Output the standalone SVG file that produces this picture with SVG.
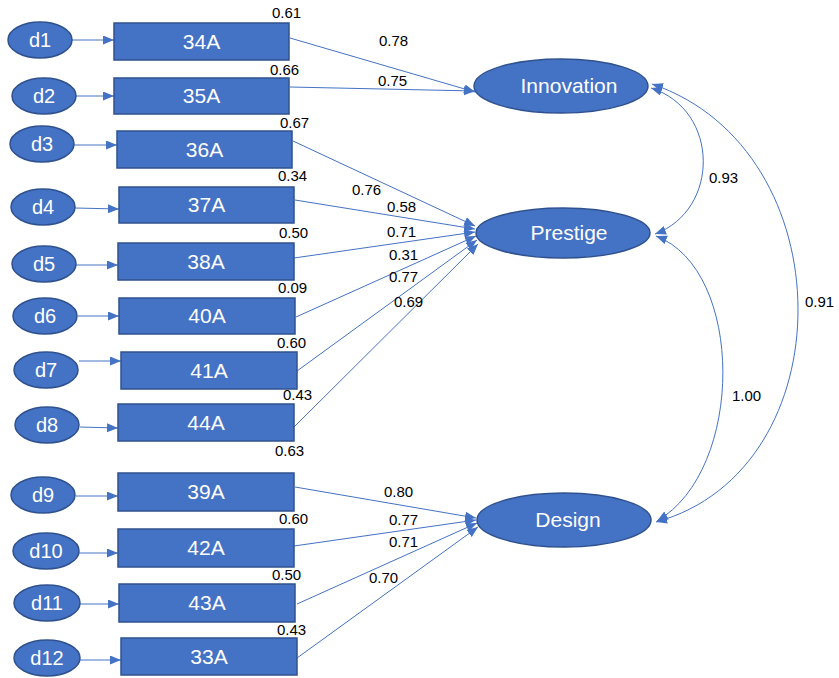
<svg xmlns="http://www.w3.org/2000/svg" width="839" height="678" viewBox="0 0 839 678">
<style>
.node{fill:#4472C4;stroke:#2F528F;stroke-width:1.5}
.lbl{font-family:"Liberation Sans",Arial,sans-serif;fill:#fff;text-anchor:middle}
.d{font-size:20px}
.b{font-size:21px}
.num{font-family:"Liberation Sans",Arial,sans-serif;font-size:15px;fill:#000}
.ln{stroke:#4472C4;stroke-width:1;fill:none}
</style>
<defs>
<marker id="ah" markerUnits="userSpaceOnUse" markerWidth="12" markerHeight="10" refX="11" refY="4.5" orient="auto-start-reverse" viewBox="0 0 12 10">
<path d="M0,0 L11,4.5 L0,9 z" fill="#4472C4"/>
</marker>
</defs>
<rect width="839" height="678" fill="#fff"/>

<g id="connectors">
<line class="ln" x1="72" y1="40" x2="114" y2="40" marker-end="url(#ah)"/>
<line class="ln" x1="76" y1="96" x2="114" y2="96" marker-end="url(#ah)"/>
<line class="ln" x1="74" y1="145" x2="117" y2="145" marker-end="url(#ah)"/>
<line class="ln" x1="75" y1="208" x2="119" y2="209" marker-end="url(#ah)"/>
<line class="ln" x1="76" y1="265" x2="118" y2="265" marker-end="url(#ah)"/>
<line class="ln" x1="78" y1="316" x2="119" y2="316" marker-end="url(#ah)"/>
<line class="ln" x1="79" y1="361" x2="121" y2="361" marker-end="url(#ah)"/>
<line class="ln" x1="80" y1="427" x2="118" y2="428" marker-end="url(#ah)"/>
<line class="ln" x1="76" y1="496" x2="118" y2="496" marker-end="url(#ah)"/>
<line class="ln" x1="79" y1="553" x2="118" y2="553" marker-end="url(#ah)"/>
<line class="ln" x1="80" y1="604" x2="119" y2="604" marker-end="url(#ah)"/>
<line class="ln" x1="80" y1="660" x2="121" y2="660" marker-end="url(#ah)"/>

<line class="ln" x1="290" y1="38" x2="475" y2="92" marker-end="url(#ah)"/>
<line class="ln" x1="290" y1="87" x2="475" y2="91" marker-end="url(#ah)"/>

<line class="ln" x1="293" y1="141" x2="475" y2="226" marker-end="url(#ah)"/>
<line class="ln" x1="295" y1="200" x2="475" y2="229" marker-end="url(#ah)"/>
<line class="ln" x1="294" y1="258" x2="475" y2="232" marker-end="url(#ah)"/>
<line class="ln" x1="296" y1="317" x2="476" y2="236" marker-end="url(#ah)"/>
<line class="ln" x1="297" y1="371" x2="477" y2="240" marker-end="url(#ah)"/>
<line class="ln" x1="294" y1="427" x2="478" y2="244" marker-end="url(#ah)"/>

<line class="ln" x1="295" y1="487" x2="476" y2="518" marker-end="url(#ah)"/>
<line class="ln" x1="294" y1="546" x2="476" y2="520" marker-end="url(#ah)"/>
<line class="ln" x1="297" y1="604" x2="477" y2="523" marker-end="url(#ah)"/>
<line class="ln" x1="297" y1="658" x2="478" y2="527" marker-end="url(#ah)"/>

<path class="ln" d="M651 88 C720 110 720 210 655 234" marker-start="url(#ah)" marker-end="url(#ah)"/>
<path class="ln" d="M652 84 C846 150 846 470 656 522" marker-start="url(#ah)" marker-end="url(#ah)"/>
<path class="ln" d="M656 236 C745 270 745 470 657 521" marker-start="url(#ah)" marker-end="url(#ah)"/>
</g>

<g id="d1"><ellipse class="node" cx="40" cy="40" rx="32" ry="18"/><text class="lbl d" x="40" y="47">d1</text></g>
<g id="d2"><ellipse class="node" cx="44" cy="96" rx="32" ry="18"/><text class="lbl d" x="44" y="103">d2</text></g>
<g id="d3"><ellipse class="node" cx="42" cy="144" rx="32" ry="18"/><text class="lbl d" x="42" y="151">d3</text></g>
<g id="d4"><ellipse class="node" cx="43" cy="207" rx="32" ry="18"/><text class="lbl d" x="43" y="214">d4</text></g>
<g id="d5"><ellipse class="node" cx="44" cy="264" rx="32" ry="18"/><text class="lbl d" x="44" y="271">d5</text></g>
<g id="d6"><ellipse class="node" cx="45" cy="316" rx="32" ry="18"/><text class="lbl d" x="45" y="323">d6</text></g>
<g id="d7"><ellipse class="node" cx="46" cy="370" rx="32" ry="18"/><text class="lbl d" x="46" y="377">d7</text></g>
<g id="d8"><ellipse class="node" cx="47" cy="425" rx="32" ry="18"/><text class="lbl d" x="47" y="432">d8</text></g>
<g id="d9"><ellipse class="node" cx="43" cy="495" rx="32" ry="18"/><text class="lbl d" x="43" y="502">d9</text></g>
<g id="d10"><ellipse class="node" cx="46" cy="551" rx="33" ry="18"/><text class="lbl d" x="46" y="558">d10</text></g>
<g id="d11"><ellipse class="node" cx="47" cy="603" rx="33" ry="18"/><text class="lbl d" x="47" y="610">d11</text></g>
<g id="d12"><ellipse class="node" cx="47" cy="658" rx="33" ry="18"/><text class="lbl d" x="47" y="665">d12</text></g>

<g id="b34A"><rect class="node" x="114" y="23" width="175" height="37"/><text class="lbl b" x="201.5" y="49">34A</text></g>
<g id="b35A"><rect class="node" x="114" y="78" width="175" height="36"/><text class="lbl b" x="201.5" y="103">35A</text></g>
<g id="b36A"><rect class="node" x="117" y="131" width="175" height="37"/><text class="lbl b" x="204.5" y="157">36A</text></g>
<g id="b37A"><rect class="node" x="119" y="187" width="175" height="36"/><text class="lbl b" x="206.5" y="212">37A</text></g>
<g id="b38A"><rect class="node" x="118" y="243" width="176" height="37"/><text class="lbl b" x="206" y="269">38A</text></g>
<g id="b40A"><rect class="node" x="119" y="298" width="176" height="36"/><text class="lbl b" x="207" y="323">40A</text></g>
<g id="b41A"><rect class="node" x="121" y="352" width="176" height="37"/><text class="lbl b" x="209" y="378">41A</text></g>
<g id="b44A"><rect class="node" x="118" y="404" width="176" height="37"/><text class="lbl b" x="206" y="430">44A</text></g>
<g id="b39A"><rect class="node" x="118" y="473" width="176" height="38"/><text class="lbl b" x="206" y="499">39A</text></g>
<g id="b42A"><rect class="node" x="118" y="529" width="176" height="38"/><text class="lbl b" x="206" y="555">42A</text></g>
<g id="b43A"><rect class="node" x="119" y="584" width="176" height="38"/><text class="lbl b" x="207" y="610">43A</text></g>
<g id="b33A"><rect class="node" x="121" y="638" width="176" height="37"/><text class="lbl b" x="209" y="664">33A</text></g>

<g id="Innovation"><ellipse class="node" cx="561" cy="86" rx="87" ry="27"/><text class="lbl b" x="569" y="93">Innovation</text></g>
<g id="Prestige"><ellipse class="node" cx="563" cy="233" rx="87" ry="25"/><text class="lbl b" x="569" y="240">Prestige</text></g>
<g id="Design"><ellipse class="node" cx="564" cy="520" rx="87" ry="27"/><text class="lbl b" x="568" y="527">Design</text></g>

<g id="labels">
<text class="num" x="272" y="18">0.61</text>
<text class="num" x="270" y="75">0.66</text>
<text class="num" x="280" y="128">0.67</text>
<text class="num" x="278" y="181">0.34</text>
<text class="num" x="279" y="238">0.50</text>
<text class="num" x="278" y="293">0.09</text>
<text class="num" x="277" y="348">0.60</text>
<text class="num" x="283" y="400">0.43</text>
<text class="num" x="275" y="456">0.63</text>
<text class="num" x="279" y="524">0.60</text>
<text class="num" x="272" y="580">0.50</text>
<text class="num" x="277" y="635">0.43</text>
<text class="num" x="379" y="46">0.78</text>
<text class="num" x="378" y="86">0.75</text>
<text class="num" x="352" y="195">0.76</text>
<text class="num" x="387" y="212">0.58</text>
<text class="num" x="387" y="237">0.71</text>
<text class="num" x="389" y="260">0.31</text>
<text class="num" x="389" y="282">0.77</text>
<text class="num" x="394" y="307">0.69</text>
<text class="num" x="384" y="497">0.80</text>
<text class="num" x="389" y="525">0.77</text>
<text class="num" x="389" y="547">0.71</text>
<text class="num" x="369" y="583">0.70</text>
<text class="num" x="709" y="183">0.93</text>
<text class="num" x="805" y="307">0.91</text>
<text class="num" x="732" y="401">1.00</text>
</g>
</svg>
